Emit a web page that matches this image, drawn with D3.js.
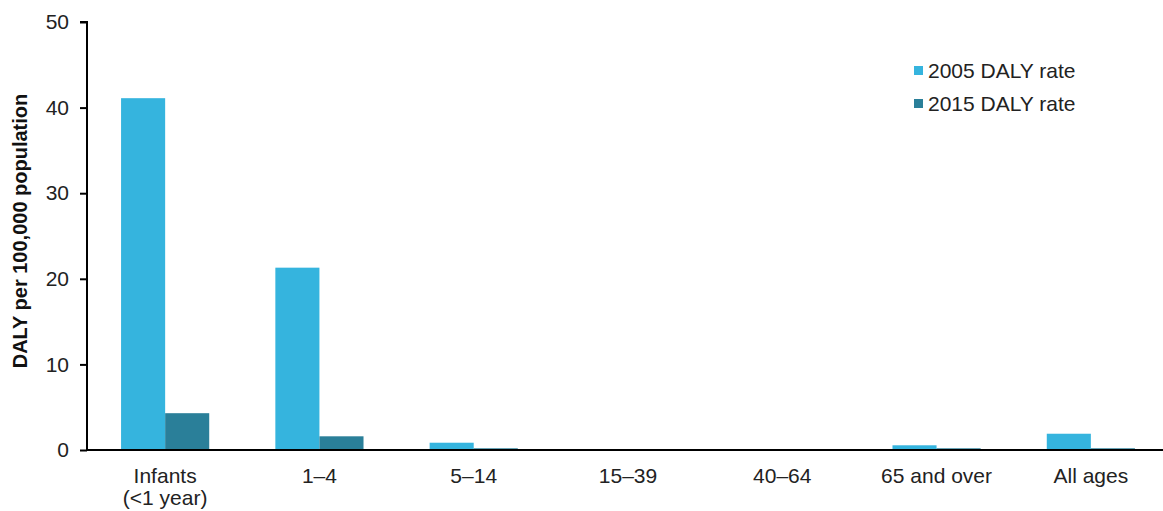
<!DOCTYPE html>
<html><head><meta charset="utf-8">
<script src="https://cdn.jsdelivr.net/npm/d3@7"></script>
<style>body{margin:0;background:#fff;}svg{display:block;font-family:"Liberation Sans",Arial,sans-serif;}</style>
</head><body>
<svg id="c" width="1163" height="511"></svg>
<script>
const categories = ["Infants\n(<1 year)", "1–4", "5–14", "15–39", "40–64", "65 and over", "All ages"];
const seriesNames = ["2005 DALY rate", "2015 DALY rate"];
const rate2005 = [41.1, 21.3, 0.85, 0, 0, 0.55, 1.9];
const rate2015 = [4.3, 1.6, 0.2, 0, 0, 0.2, 0.2];
const yTicks = [0, 10, 20, 30, 40, 50];
const colors = ["#35b4de", "#2a7f99"];

(function () {
const svg = d3.select("#c");
const mLeft = 87, mRight = 1168, mTop = 22, mBottom = 450;
const x = d3.scaleBand().domain(categories).range([mLeft + 1, mRight]).paddingInner(0).paddingOuter(0);
const inner = d3.scaleBand().domain(seriesNames).range([0, x.bandwidth()]).paddingInner(0).paddingOuter(0.75);
const y = d3.scaleLinear().domain([0, 50]).range([mBottom, mTop]);
const series = [rate2005, rate2015];

series.forEach((vals, si) => {
  svg.append("g").selectAll("rect").data(vals).join("rect")
    .attr("x", (d, i) => x(categories[i]) + inner(seriesNames[si]))
    .attr("width", inner.bandwidth())
    .attr("y", d => y(d))
    .attr("height", d => y(0) - y(d))
    .attr("fill", colors[si]);
});

const ya = svg.append("g").attr("transform", `translate(${mLeft},0)`)
  .call(d3.axisLeft(y).tickValues(yTicks).tickSize(7).tickPadding(11));
ya.select(".domain").attr("stroke", "#000").attr("stroke-width", 2).attr("d", `M-7,${mTop}H0V${mBottom}`);
ya.selectAll(".tick line").attr("stroke", "#000").attr("stroke-width", 2);
ya.selectAll(".tick text").attr("font-size", 21).attr("fill", "#222").style("font-family", "Liberation Sans, Arial, sans-serif");

svg.append("line").attr("x1", mLeft).attr("x2", 1163).attr("y1", mBottom).attr("y2", mBottom)
  .attr("stroke", "#000").attr("stroke-width", 2);

const xl = svg.append("g");
categories.forEach(c => {
  const lines = c.split("\n");
  const t = xl.append("text").attr("x", x(c) + x.bandwidth() / 2).attr("y", 483)
    .attr("text-anchor", "middle").attr("font-size", 21).attr("fill", "#222");
  lines.forEach((l, i) => t.append("tspan").attr("x", x(c) + x.bandwidth() / 2).attr("dy", i ? 22 : 0).text(l));
});

svg.append("text").attr("transform", "translate(27,231) rotate(-90)")
  .attr("text-anchor", "middle").attr("font-size", 20).attr("font-weight", "bold").attr("fill", "#111")
  .text("DALY per 100,000 population");

const lg = svg.append("g");
seriesNames.forEach((s, i) => {
  lg.append("rect").attr("x", 914).attr("y", 66 + i * 33).attr("width", 9).attr("height", 9).attr("fill", colors[i]);
  lg.append("text").attr("x", 928).attr("y", 78 + i * 33).attr("font-size", 21).attr("fill", "#222").text(s);
});
})();
</script>
</body></html>
